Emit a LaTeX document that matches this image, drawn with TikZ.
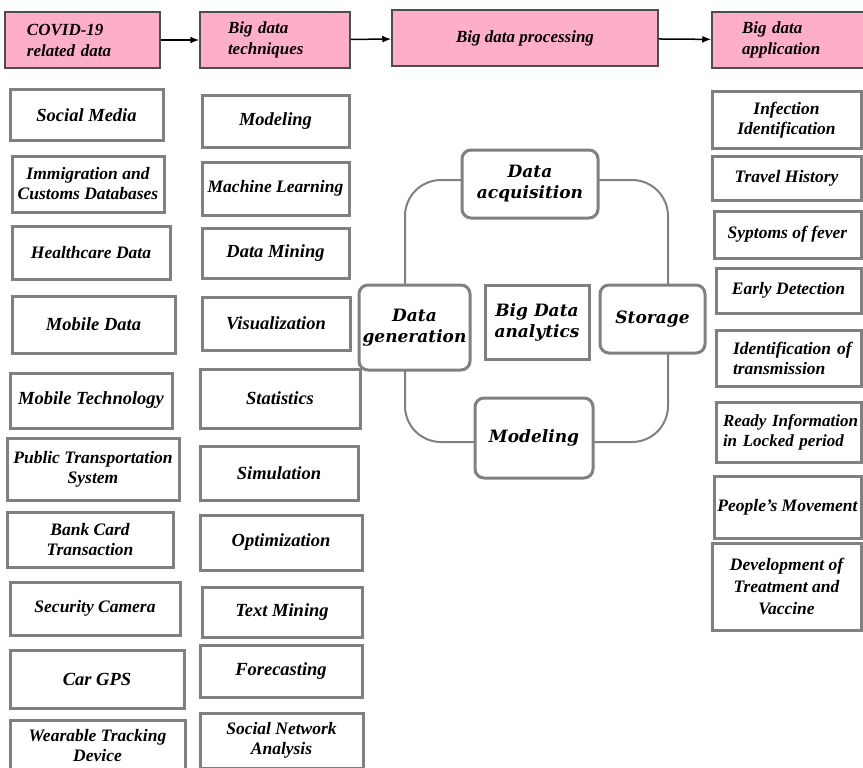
\documentclass[tikz,border=0pt]{standalone}
\usepackage{fontspec}
\setmainfont{Liberation Serif}
\newfontfamily\cyclefont{DejaVu Serif}
\usepackage{xcolor}
\usepackage{tikz}
\usetikzlibrary{positioning,arrows.meta}

\definecolor{rosa}{RGB}{255,174,201}
\definecolor{borde}{RGB}{128,128,128}

\begin{document}
\begin{tikzpicture}[
  x=1pt, y=-1pt,
  cabeza/.style={draw=black!70, line width=1.5pt, fill=rosa, font=\fontsize{17}{21}\selectfont\bfseries\itshape, inner sep=0pt},
  caja/.style={draw=borde, line width=3pt, align=center, inner sep=0pt, font=\fontsize{18.5}{21}\selectfont\bfseries\itshape},
  chica/.style={font=\fontsize{17.5}{20}\selectfont\bfseries\itshape},
  ciclo/.style={draw=borde, line width=3pt, rounded corners=9pt, fill=white, align=center, inner sep=0pt, font=\cyclefont\fontsize{17}{21}\selectfont\bfseries\itshape},
  linea/.style={draw=borde, line width=2pt, rounded corners=36pt},
  flecha/.style={draw, line width=1.5pt, -{Latex[length=9pt,width=7pt]}}
]
  \useasboundingbox (0,0) rectangle (863,768);

  % encabezados
  \node[cabeza, minimum width=155, minimum height=56, text width=111, align=left] (covid) at (82.5,40) {COVID-19\\related data};
  \node[cabeza, minimum width=150, minimum height=56, text width=94, align=left] (tec) at (275,40) {Big data\\techniques};
  \node[cabeza, minimum width=266, minimum height=56, align=center] (proc) at (525,38) {Big data processing};
  \node[cabeza, minimum width=170, minimum height=56, text width=110, align=left] (app) at (797,40) {Big data\\application};
  \draw[flecha] (covid) -- (tec);
  \draw[flecha] (tec) -- (proc);
  \draw[flecha] (proc) -- (app);

  % datos
  \node[caja, minimum width=153, minimum height=50] (d1) at (86.5,115) {Social Media};
  \node[caja, chica, minimum width=152, minimum height=56] (d2) at (88,184) {Immigration and\\Customs Databases};
  \node[caja, chica, minimum width=158, minimum height=53] (d3) at (91,252.5) {Healthcare Data};
  \node[caja, minimum width=163, minimum height=57] (d4) at (93.5,324.5) {Mobile Data};
  \node[caja, minimum width=162, minimum height=55] (d5) at (91,400.5) {Mobile Technology};
  \node[caja, chica, minimum width=172, minimum height=62] (d6) at (93,469) {Public Transportation\\System};
  \node[caja, chica, minimum width=166, minimum height=55] (d7) at (90,539.5) {Bank Card\\Transaction};
  \node[caja, chica, minimum width=170, minimum height=53] (d8) at (95,608.5) {Security Camera};
  \node[caja, minimum width=174, minimum height=58] (d9) at (97,679) {Car GPS};
  \node[caja, chica, minimum width=175, minimum height=52] (d10) at (97.5,746) {Wearable Tracking\\Device};

  % tecnicas
  \node[caja, minimum width=147, minimum height=51] (t1) at (275.5,121.5) {Modeling};
  \node[caja, chica, minimum width=147, minimum height=53] (t2) at (275.5,188.5) {Machine Learning};
  \node[caja, minimum width=147, minimum height=50] (t3) at (275.5,253) {Data Mining};
  \node[caja, minimum width=148, minimum height=53] (t4) at (276,323.5) {Visualization};
  \node[caja, minimum width=160, minimum height=59] (t5) at (280,398.5) {Statistics};
  \node[caja, minimum width=158, minimum height=54] (t6) at (279,473) {Simulation};
  \node[caja, minimum width=162, minimum height=55] (t7) at (281,542.5) {Optimization};
  \node[caja, minimum width=160, minimum height=50] (t8) at (282,612) {Text Mining};
  \node[caja, minimum width=162, minimum height=52] (t9) at (281,671) {Forecasting};
  \node[caja, chica, minimum width=163, minimum height=55] (t10) at (281.5,740.5) {Social Network\\Analysis};

  % procesamiento
  \draw[linea] ([yshift=4]530,184) -| (405,327.5);
  \draw[linea] ([yshift=4]530,184) -| (668,319);
  \draw[linea] (405,327.5) |- (534,442);
  \draw[linea] (668,319) |- (534,442);
  \node[ciclo, minimum width=136, minimum height=68] (adq) at (530,184) {Data\\acquisition};
  \node[ciclo, minimum width=111, minimum height=85] (gen) at (414.5,327.5) {Data\\generation};
  \node[ciclo, minimum width=105, minimum height=68] (alm) at (652.5,319) {Storage};
  \node[ciclo, minimum width=118, minimum height=80] (mod) at (534,438) {Modeling};
  \node[ciclo, rounded corners=0pt, minimum width=104, minimum height=74] (bda) at (537,322) {Big Data\\analytics};

  % aplicaciones
  \node[caja, chica, minimum width=149, minimum height=56] (a1) at (786.5,120) {Infection\\Identification};
  \node[caja, chica, minimum width=149, minimum height=44] (a2) at (786.5,178) {Travel History};
  \node[caja, chica, minimum width=147, minimum height=47] (a3) at (787.5,234.5) {Syptoms of fever};
  \node[caja, chica, minimum width=145, minimum height=45] (a4) at (788.5,290.5) {Early Detection};
  \node[caja, chica, minimum width=145, minimum height=56, text width=111, align=left] (a5) at (788.5,358) {\mbox{Identification of}\\\mbox{transmission}};
  \node[caja, minimum width=145, minimum height=60, text width=131, align=left, font=\fontsize{17}{20}\selectfont\bfseries\itshape] (a6) at (788.5,432) {\mbox{Ready Information}\\\mbox{in Locked period}};
  \node[caja, chica, minimum width=147, minimum height=62] (a7) at (787.5,507) {People's Movement};
  \node[caja, chica, minimum width=149, minimum height=87, font=\fontsize{17.5}{22}\selectfont\bfseries\itshape] (a8) at (786.5,586.5) {Development of\\Treatment and\\Vaccine};
\end{tikzpicture}
\end{document}
